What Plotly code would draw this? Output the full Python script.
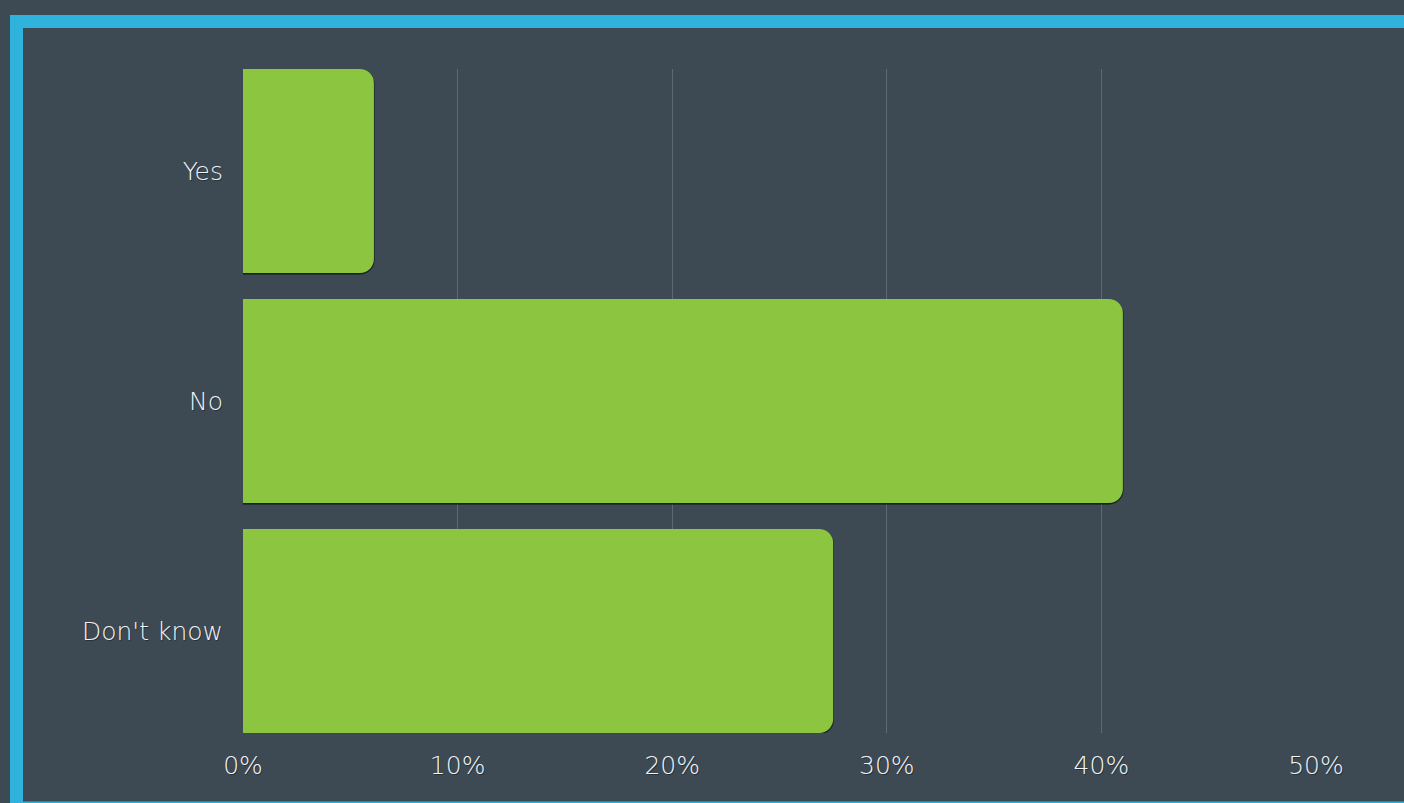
import plotly.graph_objects as go

# Survey answers and their shares (percent)
answers = ["Yes", "No", "Don't know"]
shares = [6.1, 41.0, 27.5]
tick_values = [0, 10, 20, 30, 40, 50]
tick_labels = ["0%", "10%", "20%", "30%", "40%", "50%"]

BG = "#3d4a54"
GREEN = "#8cc640"
BLUE = "#2fb3dc"
GRID = "#5d6973"
TEXT = "#f2f3f4"
SHADOW = "rgba(24,32,26,0.8)"

W, H = 1404, 803
L, R, T, B = 243, 88, 69, 70
bar_w = 0.887

fig = go.Figure()

# thin drop shadow under each bar (same values, nudged down a pixel)
fig.add_trace(
    go.Bar(
        x=shares,
        y=answers,
        orientation="h",
        marker=dict(color=SHADOW, cornerradius=14, line=dict(color=SHADOW, width=1.5)),
        width=bar_w,
        offset=-bar_w / 2 + 0.004,
        hoverinfo="skip",
    )
)
fig.add_trace(
    go.Bar(
        x=shares,
        y=answers,
        orientation="h",
        marker=dict(color=GREEN, cornerradius=14, line=dict(width=0)),
        width=bar_w,
        offset=-bar_w / 2,
        hoverinfo="skip",
    )
)

font = dict(family="DejaVu Sans ExtraLight, DejaVu Sans, sans-serif", size=25,
            color=TEXT, weight=200, shadow="1px 1px 0px rgba(0,0,0,0.35)")

fig.update_layout(
    width=W,
    height=H,
    autosize=False,
    barmode="overlay",
    margin=dict(l=L, r=R, t=T, b=B),
    paper_bgcolor=BG,
    plot_bgcolor=BG,
    showlegend=False,
    font=font,
    xaxis=dict(
        range=[0, 50],
        tickvals=tick_values,
        ticktext=tick_labels,
        showgrid=True,
        gridcolor=GRID,
        gridwidth=1,
        zeroline=False,
        showline=False,
        ticks="",
        ticklabelstandoff=15,
        tickfont=font,
        fixedrange=True,
    ),
    yaxis=dict(
        categoryorder="array",
        categoryarray=answers,
        range=[2 + bar_w / 2, -bar_w / 2],
        showgrid=False,
        zeroline=False,
        showline=False,
        ticks="",
        ticklabelstandoff=19,
        tickfont=font,
        fixedrange=True,
    ),
)

# Blue frame around the card (right edge runs off the page)
pw = W - L - R
ph = H - T - B
def px_x(p):
    return (p - L) / pw
def px_y(p):
    return (H - B - p) / ph

fig.add_shape(
    type="rect",
    xref="paper", yref="paper",
    x0=px_x(16.5), x1=px_x(1430),
    y0=px_y(808), y1=px_y(21.5),
    line=dict(color=BLUE, width=13),
    fillcolor="rgba(0,0,0,0)",
    layer="below",
)

fig.write_html("out.html", config={"displayModeBar": False})
